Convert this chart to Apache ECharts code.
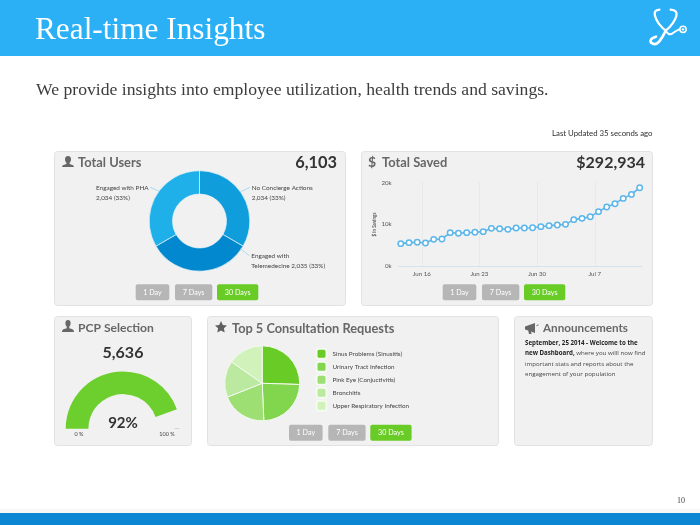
<!DOCTYPE html>
<html><head><meta charset="utf-8">
<style>html,body{margin:0;padding:0;background:#fff}#c{width:700px;height:525px}</style>
<script src="https://cdn.jsdelivr.net/npm/echarts@6/dist/echarts.min.js"></script>
</head><body><div id="c"></div>
<script>
const userNames = ['No Concierge Actions', 'Engaged with Telemedecine', 'Engaged with PHA'];
const userLabels = ['No Concierge Actions\n2,034 (33%)', 'Engaged with\nTelemedecine 2,035 (33%)', 'Engaged with PHA\n2,034 (33%)'];
const userValues = [2034, 2035, 2034];
const userColors = ['#0F9EDB', '#0288CE', '#1FB0E9'];

const savedDays = [11.45,12.45,13.45,14.45,15.45,16.45,17.45,18.45,19.45,20.45,21.45,22.45,23.45,24.45,25.45,26.45,27.45,28.45,29.45,30.45,31.45,32.45,33.45,34.45,35.45,36.45,37.45,38.45,39.45,40.45];
const savedValues = [5.42,5.66,5.74,5.58,6.45,6.53,8.05,7.89,8.05,8.13,8.29,9.08,9.0,8.84,9.16,9.16,9.24,9.48,9.72,9.88,10.04,11.16,11.47,11.87,13.07,14.18,14.98,16.25,17.2,18.8];
const savedTickDays = [14, 21, 28, 35];
const savedTickLabels = ['Jun 16', 'Jun 23', 'Jun 30', 'Jul 7'];

const pcpPercent = 92;

const consultNames = ['Sinus Problems (Sinusitis)', 'Urinary Tract Infection', 'Pink Eye (Conjuctivitis)', 'Bronchitis', 'Upper Respiratory Infection'];
const consultValues = [25.5, 23.8, 19.7, 15.7, 15.3];
const consultColors = ['#68CB26', '#82D64E', '#9DDF73', '#BCE9A0', '#D2F2BC'];

const rangeButtons = ['1 Day', '7 Days', '30 Days'];

const LATO = 'Lato, "Open Sans", sans-serif';
const SERIF = '"Liberation Serif", serif';
const G = [];
let pathId = 0;
const svgShape = d => { const n = 'svgp' + (pathId++); echarts.graphic.registerShape(n, echarts.graphic.extendPath(d, {})); return n; };
const rect = (x,y,w,h,fill,r,stroke) => G.push({type:'rect',silent:true,shape:{x,y,width:w,height:h,r:r||0},style:{fill,stroke:stroke||null,lineWidth:stroke?1:0}});
const text = (x,y,t,size,fill,weight,align,family) => G.push({type:'text',silent:true,x,y,z:5,style:{text:t,font:(weight||'normal')+' '+size+'px '+(family||LATO),fill,align:align||'left',verticalAlign:'middle'}});
const icon = (x,y,d,fill) => G.push({type:svgShape(d),silent:true,x,y,style:{fill}});

rect(0,0,700,56,'#2BB0F6');
rect(0,513,700,12,'#0A86D2');
rect(0,509,700,4,'#F6F6F6');
text(35,31,'Real-time Insights',31.3,'#FFFFFF','normal','left',SERIF);
text(36,90.5,'We provide insights into employee utilization, health trends and savings.',17.65,'#3C3C3C','normal','left',SERIF);
text(652.5,133.5,'Last Updated 35 seconds ago',7.8,'#2E2E2E','normal','right');
text(685,500.5,'10',8,'#444444','normal','right',SERIF);

const panels = [[54,151,291,154],[361,151,291,154],[54,316,137,129],[207,316,291,129],[514,316,138,129]];
panels.forEach(p => rect(p[0]+.5,p[1]+.5,p[2],p[3],'#F1F1F1',3,'#E2E2E2'));

const heading = '#676767';
text(78,162.5,'Total Users',12.9,heading,'bold');
text(337,163,'6,103',16.4,'#333333','bold','right');
text(368,162.5,'$',14,heading,'bold');
text(382,162.5,'Total Saved',12.9,heading,'bold');
text(645,163,'$292,934',16,'#333333','bold','right');
text(78,328,'PCP Selection',12.1,heading,'bold');
text(123,352.5,'5,636',16,'#333333','bold','center');
text(232,328.5,'Top 5 Consultation Requests',12.8,heading,'bold');
text(543,328.5,'Announcements',11.7,heading,'bold');

icon(62,156,'M6 0C8.2 0 9 1.6 9 3.4C9 5 8.3 6.2 7.6 6.8L7.6 8C9.5 8.6 12 9.2 12 11L0 11C0 9.2 2.5 8.6 4.4 8L4.4 6.8C3.7 6.2 3 5 3 3.4C3 1.6 3.8 0 6 0Z','#676767');
icon(62,320,'M6 0C8 0 8.6 1.6 8.6 3.2C8.6 4.6 8 5.8 7.3 6.4L7.3 8.2C9.5 8.8 12 9 12 12L0 12C0 9 2.5 8.8 4.7 8.2L4.7 6.4C4 5.8 3.4 4.6 3.4 3.2C3.4 1.6 4 0 6 0Z','#676767');
icon(215,321,'M6 0L7.8 3.9L12 4.4L8.9 7.3L9.7 11.5L6 9.4L2.3 11.5L3.1 7.3L0 4.4L4.2 3.9Z','#5F5F5F');
icon(525,323,'M0 3.5L10 0L10 10L6 8.6L6.6 11L4 11L3.2 7.6L0 6.5Z M11.5 2.2L13.5 1.2L13.5 2.2L11.5 3.2Z','#676767');

const buttonSets = [[135.7,284.3],[442.7,284.3],[289,424.7]];
const offsets = [[0,33.6],[39.3,37.3],[81.3,41.3]];
buttonSets.forEach(b => rangeButtons.forEach((t,i) => {
  const active = i === 2;
  rect(b[0]+offsets[i][0],b[1],offsets[i][1],16,active?'#68CB26':'#B6B6B6',2);
  text(b[0]+offsets[i][0]+offsets[i][1]/2,b[1]+8.3,t,7.2,'#FFFFFF','normal','center');
}));

text(79,434,'0 %',5.5,'#444444','normal','center');
text(167,434,'100 %',5.5,'#444444','normal','center');
rect(174.5,428,5,.8,'#CFCFCF');

const annText = ['{b|September, 25 2014 - Welcome to the}','{b|new Dashboard,} where you willl now find','important stats and reports about the','engagement of your population'];
annText.forEach((t,i) => G.push({type:'text',silent:true,x:525,y:343.3+i*10.4,z:5,style:{text:t,font:'6.15px "Open Sans", sans-serif',fill:'#444444',verticalAlign:'middle',rich:{b:{font:'bold 6.15px "Open Sans", sans-serif',fill:'#222222'}}}}));

[[[159,191],[150,187.3]],[[240.7,191.7],[250,187.3]],[[240.7,249],[249.3,255.7]]].forEach(pts =>
  G.push({type:'polyline',silent:true,z:5,shape:{points:pts},style:{fill:'none',stroke:'#A9DDF2',lineWidth:1}}));

const logoStroke = (d,w) => ({type:svgShape(d),style:{fill:'none',stroke:'#fff',lineWidth:w,lineCap:'round'}});
G.push({type:'group',silent:true,x:600,y:0,scaleX:1/3,scaleY:1/3,z:6,children:[
  logoStroke('M178 29Q160 30 165 48Q172 72 197 92Q222 72 229 48Q234 30 212 29',7),
  logoStroke('M197 92Q190 108 178 124Q166 138 153 128Q147 116 168 110',8),
  logoStroke('M197 92Q205 108 218 100Q228 92 238 88',6),
  {type:'circle',shape:{cx:249,cy:88,r:9.5},style:{fill:'none',stroke:'#fff',lineWidth:4.5}},
  {type:'circle',shape:{cx:249,cy:88,r:3.5},style:{fill:'#fff'}}
]});

const labelSpots = [[251.7,192.5],[251.3,260.5],[96,192.5]];

const option = {
  animation:false,
  graphic:{elements:G},
  grid:{left:398.7,top:182.7,width:243.3,height:83.6},
  xAxis:{type:'value',min:11.2,max:40.73,
    axisLine:{show:true,lineStyle:{color:'#D5E3EF',width:1}},
    axisTick:{show:false,customValues:savedTickDays},
    axisLabel:{customValues:savedTickDays,fontFamily:LATO,fontSize:6.1,color:'#555',margin:5,
      formatter:v=>savedTickLabels[savedTickDays.indexOf(v)]||''},
    splitLine:{show:true,lineStyle:{color:'#E0E0E0',type:'dotted',width:1}}},
  yAxis:{type:'value',min:0,max:20,interval:10,
    axisLine:{show:false},axisTick:{show:false},splitLine:{show:false},
    axisLabel:{fontFamily:LATO,fontSize:6.2,color:'#555',margin:7,formatter:v=>v+'k'},
    name:'$ in Savings',nameLocation:'middle',nameGap:22,nameTextStyle:{fontFamily:LATO,fontSize:4.6,fontWeight:'bold',color:'#555'}},
  legend:{data:consultNames,orient:'vertical',left:315.5,top:347.7,padding:0,itemWidth:10,itemHeight:10,itemGap:1,icon:'roundRect',
    selectedMode:false,textStyle:{fontFamily:LATO,fontSize:6.3,color:'#444',padding:[0,0,0,1]}},
  series:[
    {type:'pie',center:[199.5,221],radius:[27,50.3],startAngle:90,clockwise:true,silent:true,
      itemStyle:{borderColor:'#E8F4FB',borderWidth:.7},
      label:{show:true,position:'outside',fontFamily:LATO,fontSize:6.4,lineHeight:10,color:'#444',formatter:p=>userLabels[p.dataIndex]},
      labelLine:{show:false},
      labelLayout:p=>({x:labelSpots[p.dataIndex][0],y:labelSpots[p.dataIndex][1],align:'left',verticalAlign:'middle'}),
      data:userNames.map((n,i)=>({name:n,value:userValues[i],itemStyle:{color:userColors[i]}}))},
    {type:'line',data:savedDays.map((d,i)=>[d,savedValues[i]]),showSymbol:true,symbol:'circle',symbolSize:5.4,silent:true,
      lineStyle:{color:'#5CB6EA',width:1.6},itemStyle:{color:'#FFFFFF',borderColor:'#5CB6EA',borderWidth:1.5}},
    {type:'gauge',center:[123,428.7],radius:57.3,startAngle:180,endAngle:6,min:0,max:100,silent:true,
      axisLine:{show:false,lineStyle:{width:22.7}},
      progress:{show:true,width:22.7,roundCap:false,itemStyle:{color:'#6CCF2D'}},
      pointer:{show:false},axisTick:{show:false},splitLine:{show:false},axisLabel:{show:false},title:{show:false},
      detail:{show:true,offsetCenter:[0,-6],valueAnimation:false,formatter:'{value}%',fontFamily:LATO,fontWeight:'bold',fontSize:15,color:'#333'},
      data:[{value:pcpPercent}]},
    {type:'pie',center:[262.2,383.3],radius:[0,37.5],startAngle:90,clockwise:true,silent:true,
      itemStyle:{borderColor:'#F4FAF0',borderWidth:1},label:{show:false},labelLine:{show:false},
      data:consultNames.map((n,i)=>({name:n,value:consultValues[i],itemStyle:{color:consultColors[i]}}))}
  ]
};
echarts.init(document.getElementById('c'),null,{renderer:'canvas'}).setOption(option);
</script></body></html>
